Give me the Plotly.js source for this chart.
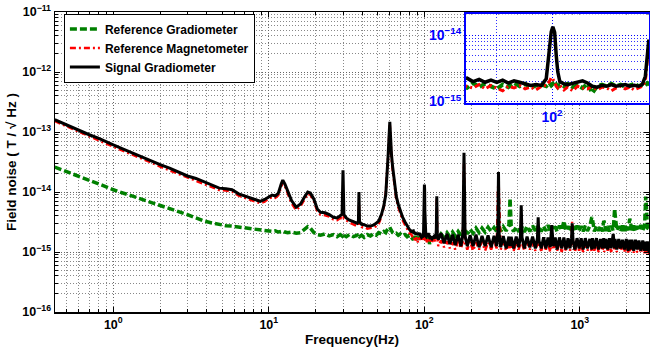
<!DOCTYPE html>
<html><head><meta charset="utf-8">
<script src="https://cdn.plot.ly/plotly-3.0.1.min.js"></script>
<style>html,body{margin:0;padding:0;background:#fff}#chart{width:650px;height:354px}</style>
</head><body><div id="chart"></div>
<script>
// Frequency (Hz)
const freq = [
0.42,0.5,0.6,0.7,0.8,0.9,1,1.2,1.4,1.6,1.8,2,2.3,2.6,3,3.4,3.8,4.3,4.8,5.3,5.8,6.4,7,7.6,8.2,8.8,9.4,10,
10.5,11,11.5,12,12.3,12.7,13.2,14,15,16,17,17.8,18.5,19.5,20.5,21.5,23,24.5,26,27.5,28.8,29.6,30,30.4,31.5,33,35,37,37.7,38,38.3,39.5,41,43,45,47,49,51,53,55,56.5,57.5,58.5,59.2,59.7,60,60.3,60.8,61.5,62.5,64,66,68,70,72.5,75,77.5,80,82.5,
85,86,87,88,89,90,91,92,93,94,95,96,97,98,98.9,99.5,99.85,100.15,100.5,100.8,101.1,101.5,102.3,103,104,105,106,107,108,109,110,111,112,113,114,115,116,117,118,118.8,119.5,120,120.3,
121.2,123,128,134,140,146,152,158,165,172,177,180,183,189,197,206,215,225,235,246,257,269,281,292,297,300,303,310,322,336,350,356,362,375,390,405,415,420,425,440,458,477,497,518,534,540,546,565,585,605,625,645,660,675,695,715,740,765,790,815,840,865,885,893,905,930,960,990,1020,1050,1085,1120,1160,1195,1205,1240,1280,1320,1360,1400,1425,1435,1470,1510,1550,1590,1640,1675,1685,1730,1780,1830,1880,1935,1990,2045,2095,2105,2160,2220,2280,2340,2400,2470,2540,2610,2655,2665,2720,2790
];
// Reference Gradiometer (T/sqrt(Hz))
const refGrad = [
26e-15,22e-15,18.5e-15,16e-15,14e-15,12.2e-15,10.9e-15,9.3e-15,8.1e-15,7.2e-15,6.6e-15,6.1e-15,5.4e-15,4.8e-15,4.2e-15,3.7e-15,3.3e-15,3.05e-15,2.85e-15,2.75e-15,2.7e-15,2.6e-15,2.5e-15,2.45e-15,2.35e-15,2.3e-15,2.28e-15,2.25e-15,
2.2e-15,2.25e-15,2.15e-15,2.2e-15,2.25e-15,2.15e-15,2.1e-15,2.15e-15,2.05e-15,2.1e-15,2.4e-15,2.65e-15,2.5e-15,2.1e-15,1.95e-15,1.9e-15,2.0e-15,1.85e-15,1.95e-15,1.8e-15,1.95e-15,1.85e-15,2.0e-15,1.9e-15,1.8e-15,1.95e-15,1.8e-15,1.9e-15,1.75e-15,1.85e-15,1.8e-15,1.9e-15,1.75e-15,1.95e-15,1.85e-15,2.0e-15,1.9e-15,2.1e-15,2.0e-15,2.2e-15,2.1e-15,2.3e-15,2.4e-15,2.5e-15,2.6e-15,2.6e-15,2.5e-15,2.4e-15,2.2e-15,2.1e-15,2.0e-15,2.05e-15,1.9e-15,2.0e-15,1.85e-15,1.95e-15,1.8e-15,1.9e-15,1.75e-15,
1.6e-15,1.9e-15,1.65e-15,1.85e-15,1.7e-15,1.55e-15,1.8e-15,1.65e-15,1.9e-15,1.7e-15,1.85e-15,1.6e-15,1.75e-15,1.8e-15,1.7e-15,1.9e-15,1.75e-15,1.85e-15,1.7e-15,1.8e-15,1.65e-15,1.8e-15,1.7e-15,1.85e-15,1.65e-15,1.75e-15,1.6e-15,1.85e-15,1.35e-15,1.7e-15,1.8e-15,1.7e-15,1.85e-15,1.7e-15,1.8e-15,1.65e-15,1.75e-15,1.85e-15,1.7e-15,1.8e-15,1.75e-15,1.9e-15,1.85e-15,
1.9e-15,1.7e-15,2.0e-15,1.75e-15,2.1e-15,1.8e-15,2.15e-15,1.85e-15,2.2e-15,1.9e-15,
2.3e-15,2.0e-15,2.35e-15,2.0e-15,2.4e-15,2.05e-15,2.5e-15,2.1e-15,2.5e-15,2.15e-15,
2.6e-15,2.2e-15,2.55e-15,2.2e-15,2.7e-15,2.3e-15,2.6e-15,2.2e-15,2.65e-15,2.25e-15,
2.8e-15,7.9e-15,2.7e-15,2.2e-15,2.6e-15,2.15e-15,2.65e-15,2.3e-15,2.6e-15,2.15e-15,
2.7e-15,2.2e-15,2.75e-15,2.25e-15,2.7e-15,2.3e-15,2.6e-15,2.2e-15,2.7e-15,2.25e-15,
2.8e-15,2.2e-15,2.7e-15,2.3e-15,2.65e-15,2.2e-15,2.75e-15,2.3e-15,3.3e-15,2.25e-15,
2.7e-15,2.2e-15,2.65e-15,2.3e-15,2.7e-15,2.2e-15,2.75e-15,2.25e-15,2.7e-15,2.2e-15,
2.75e-15,2.25e-15,2.7e-15,3.8e-15,3.6e-15,2.2e-15,2.7e-15,2.25e-15,2.75e-15,2.2e-15,
3.3e-15,3.2e-15,2.25e-15,2.7e-15,2.2e-15,2.75e-15,2.3e-15,5.2e-15,4.4e-15,2.3e-15,
2.7e-15,2.2e-15,2.75e-15,2.25e-15,2.8e-15,2.3e-15,3.6e-15,3.4e-15,2.3e-15,2.75e-15,
2.2e-15,2.7e-15,2.25e-15,2.8e-15,2.3e-15,2.75e-15,8.4e-15,7.5e-15,2.5e-15,2.4e-15
];
// Reference Magnetometer (T/sqrt(Hz))
const refMag = [
152e-15,124e-15,100e-15,85e-15,73e-15,64e-15,57e-15,47e-15,39e-15,34e-15,30e-15,26.5e-15,23e-15,20e-15,17.5e-15,15.6e-15,13.8e-15,12e-15,10.8e-15,10.6e-15,10.2e-15,8.7e-15,8.0e-15,7.4e-15,6.8e-15,6.5e-15,6.9e-15,7.8e-15,
8.2e-15,8.0e-15,8.8e-15,12.5e-15,14.5e-15,12.5e-15,9.6e-15,6.5e-15,5.0e-15,5.8e-15,7.6e-15,9.3e-15,9.0e-15,7.0e-15,4.8e-15,4.2e-15,4.1e-15,3.9e-15,3.5e-15,3.4e-15,3.7e-15,3.6e-15,8e-15,3.6e-15,3.4e-15,3.1e-15,2.9e-15,2.7e-15,2.8e-15,6e-15,2.8e-15,2.6e-15,2.6e-15,2.45e-15,2.5e-15,2.55e-15,2.7e-15,3.0e-15,3.9e-15,5.8e-15,9.5e-15,17e-15,38e-15,68e-15,110e-15,130e-15,100e-15,58e-15,38e-15,24e-15,13.5e-15,7.8e-15,5.6e-15,4.3e-15,3.4e-15,2.85e-15,2.4e-15,2.1e-15,1.95e-15,
1.7e-15,1.6e-15,1.8e-15,1.55e-15,1.75e-15,1.6e-15,1.45e-15,1.7e-15,1.6e-15,1.75e-15,1.55e-15,1.65e-15,1.5e-15,1.7e-15,1.75e-15,2.0e-15,2.3e-15,2.2e-15,1.9e-15,1.7e-15,1.6e-15,1.75e-15,1.5e-15,1.65e-15,1.45e-15,1.7e-15,1.6e-15,1.55e-15,1.7e-15,1.5e-15,1.65e-15,1.6e-15,1.45e-15,1.6e-15,1.7e-15,1.55e-15,1.65e-15,1.5e-15,1.6e-15,1.7e-15,2.0e-15,4.5e-15,7.5e-15,
1.8e-15,1.25e-15,1.55e-15,1.2e-15,1.5e-15,1.15e-15,1.45e-15,1.1e-15,1.5e-15,1.15e-15,
1.5e-15,30e-15,1.4e-15,1.1e-15,1.5e-15,1.05e-15,1.45e-15,1.1e-15,1.5e-15,1.05e-15,
1.45e-15,1.1e-15,1.5e-15,1.15e-15,8e-15,18e-15,7e-15,1.1e-15,1.45e-15,1.05e-15,
1.4e-15,1.1e-15,1.45e-15,1.05e-15,1.4e-15,1.1e-15,1.45e-15,3.5e-15,1.4e-15,1.05e-15,
1.45e-15,1.1e-15,1.4e-15,1.05e-15,1.4e-15,2.6e-15,1.3e-15,1.05e-15,1.45e-15,1.1e-15,
1.4e-15,1.0e-15,2.0e-15,1.1e-15,1.45e-15,1.05e-15,1.4e-15,1.0e-15,1.4e-15,1.05e-15,
1.45e-15,1.05e-15,1.5e-15,3.2e-15,1.4e-15,1.0e-15,1.4e-15,1.05e-15,1.4e-15,1.0e-15,
1.45e-15,1.05e-15,1.4e-15,1.0e-15,1.4e-15,1.05e-15,1.45e-15,1.0e-15,1.4e-15,1.05e-15,
1.4e-15,1.0e-15,1.45e-15,1.05e-15,1.4e-15,1.0e-15,1.45e-15,1.05e-15,1.4e-15,1.0e-15,
1.4e-15,1.05e-15,1.35e-15,1.0e-15,1.4e-15,0.98e-15,1.35e-15,1.0e-15,1.35e-15,0.97e-15,
1.3e-15,0.98e-15,1.3e-15,0.96e-15,1.3e-15,0.95e-15,1.25e-15,0.95e-15,1.25e-15,0.93e-15
];
// Signal Gradiometer (T/sqrt(Hz))
const sigGrad = [
160e-15,131e-15,108e-15,90e-15,79e-15,68e-15,61e-15,50e-15,42e-15,36.5e-15,31.5e-15,28.5e-15,25e-15,21.5e-15,18.5e-15,16.8e-15,14.8e-15,12.8e-15,11.6e-15,11.3e-15,10.9e-15,9.3e-15,8.6e-15,7.9e-15,7.3e-15,7.0e-15,7.5e-15,8.3e-15,
8.9e-15,8.6e-15,9.5e-15,13.5e-15,15.8e-15,13.5e-15,10.5e-15,7.2e-15,5.6e-15,6.3e-15,8.3e-15,10e-15,9.6e-15,7.6e-15,5.2e-15,4.6e-15,4.5e-15,4.2e-15,3.8e-15,3.7e-15,4.0e-15,4.3e-15,23e-15,4.2e-15,3.7e-15,3.4e-15,3.2e-15,3.0e-15,3.3e-15,10e-15,3.2e-15,2.9e-15,2.85e-15,2.7e-15,2.7e-15,2.8e-15,3.0e-15,3.3e-15,4.2e-15,6.0e-15,9e-15,16e-15,40e-15,75e-15,125e-15,148e-15,115e-15,65e-15,42e-15,27e-15,15e-15,8.5e-15,6.2e-15,4.8e-15,3.8e-15,3.2e-15,2.7e-15,2.4e-15,2.2e-15,
2.25e-15,2.0e-15,2.15e-15,1.95e-15,2.1e-15,1.95e-15,2.1e-15,1.9e-15,2.05e-15,1.95e-15,1.85e-15,1.75e-15,1.8e-15,1.75e-15,2.2e-15,5.6e-15,11.2e-15,13.3e-15,11e-15,5e-15,2.8e-15,2.0e-15,1.85e-15,1.8e-15,1.9e-15,2.0e-15,2.05e-15,1.9e-15,1.7e-15,1.65e-15,1.75e-15,1.7e-15,1.8e-15,1.7e-15,1.75e-15,1.8e-15,1.7e-15,1.75e-15,1.7e-15,1.8e-15,2.4e-15,5.5e-15,8.5e-15,
2.0e-15,1.6e-15,2.05e-15,1.4e-15,2.0e-15,1.35e-15,1.95e-15,1.3e-15,1.95e-15,1.25e-15,
1.95e-15,45e-15,1.85e-15,1.25e-15,1.9e-15,1.25e-15,1.95e-15,1.2e-15,1.85e-15,1.25e-15,
1.9e-15,1.2e-15,1.85e-15,1.25e-15,2.2e-15,21.5e-15,2.0e-15,1.2e-15,1.85e-15,1.15e-15,
1.8e-15,1.25e-15,1.8e-15,1.15e-15,1.8e-15,1.2e-15,1.85e-15,6.0e-15,1.75e-15,1.15e-15,
1.8e-15,1.2e-15,1.8e-15,1.15e-15,1.7e-15,3.8e-15,1.55e-15,1.15e-15,1.75e-15,1.15e-15,
1.75e-15,1.2e-15,2.8e-15,1.25e-15,1.75e-15,1.1e-15,1.75e-15,1.15e-15,1.75e-15,1.1e-15,
1.7e-15,1.15e-15,1.7e-15,3.0e-15,1.55e-15,1.1e-15,1.7e-15,1.15e-15,1.7e-15,1.1e-15,
1.7e-15,1.15e-15,1.65e-15,1.1e-15,1.7e-15,1.15e-15,1.7e-15,1.1e-15,1.65e-15,1.15e-15,
1.7e-15,1.15e-15,1.65e-15,1.1e-15,1.7e-15,1.15e-15,2.0e-15,1.15e-15,1.65e-15,1.1e-15,
1.65e-15,1.15e-15,1.6e-15,1.1e-15,1.65e-15,1.05e-15,1.6e-15,1.1e-15,1.6e-15,1.05e-15,
1.6e-15,1.1e-15,1.55e-15,1.05e-15,1.55e-15,1.05e-15,1.5e-15,1.05e-15,1.5e-15,1.0e-15
];
const seriesNames = ['Reference Gradiometer','Reference Magnetometer','Signal Gradiometer'];
const xTickVals = [1, 10, 100, 1000];
const xTickText = ['10<sup>0</sup>','10<sup>1</sup>','10<sup>2</sup>','10<sup>3</sup>'];
const yTickVals = [1e-16,1e-15,1e-14,1e-13,1e-12,1e-11];
const yTickText = ['10<sup>\u221216</sup>','10<sup>\u221215</sup>','10<sup>\u221214</sup>','10<sup>\u221213</sup>','10<sup>\u221212</sup>','10<sup>\u221211</sup>'];
const insetXTickVals = [100];
const insetXTickText = ['10<sup>2</sup>'];
const insetYTickVals = [1e-15, 1e-14];
const insetYTickText = ['10<sup>\u221215</sup>','10<sup>\u221214</sup>'];

// minor grid positions (2..9 within each decade)
function minorVals(d0, d1){ const v=[]; for(let d=d0; d<=d1; d++){ for(let k=2;k<=9;k++){ v.push(k*Math.pow(10,d)); } } return v; }
const xMinor = minorVals(-1, 3);
const yMinor = minorVals(-16, -12);
const insetYMinor = minorVals(-15, -15);

const FONT = 'Liberation Sans, Arial, Helvetica, sans-serif';
const styles = [
  {color:'#008000', width:3.5, dash:'7px,3px'},
  {color:'#ff0000', width:2.5, dash:'6px,3px,2px,3px'},
  {color:'#000000', width:3}
];
const series = [refGrad, refMag, sigGrad];
const traces = [];
series.forEach((s,i)=>{
  traces.push({x:freq, y:s, type:'scatter', mode:'lines', name:seriesNames[i], line:styles[i], xaxis:'x', yaxis:'y'});
});
series.forEach((s,i)=>{
  traces.push({x:freq, y:s, type:'scatter', mode:'lines', name:seriesNames[i], line:Object.assign({}, styles[i], {width: styles[i].width+0.5}), xaxis:'x2', yaxis:'y2', showlegend:false});
});

const gridDash = '1px,2px';
const layout = {
  width:650, height:354,
  margin:{l:55, r:1, t:12, b:42, pad:0},
  paper_bgcolor:'#fff', plot_bgcolor:'#fff',
  font:{family:FONT, color:'#000'},
  showlegend:true,
  legend:{x:0.015, y:0.995, xanchor:'left', yanchor:'top', bgcolor:'#fff', bordercolor:'#000', borderwidth:1,
          font:{family:FONT, size:12, weight:'bold', color:'#000'}, tracegroupgap:0},
  xaxis:{type:'log', domain:[0,1], range:[-0.375, 3.445], anchor:'y',
    tickmode:'array', tickvals:xTickVals, ticktext:xTickText,
    ticks:'inside', ticklen:5, tickcolor:'#000', tickwidth:1,
    showline:true, linecolor:'#000', linewidth:1.5, mirror:'allticks',
    showgrid:true, gridcolor:'#666', griddash:gridDash, gridwidth:1,
    minor:{tickmode:'array', tickvals:xMinor, ticks:'inside', ticklen:3, tickcolor:'#000', showgrid:true, gridcolor:'#888', griddash:gridDash, gridwidth:1},
    tickfont:{family:FONT, size:12.5, weight:'bold', color:'#000'},
    title:{text:'Frequency(Hz)', font:{family:FONT, size:13.5, weight:'bold', color:'#000'}, standoff:4}},
  yaxis:{type:'log', domain:[0,1], range:[-16, -11], anchor:'x',
    tickmode:'array', tickvals:yTickVals, ticktext:yTickText,
    ticks:'inside', ticklen:5, tickcolor:'#000', tickwidth:1,
    showline:true, linecolor:'#000', linewidth:1.5, mirror:'allticks',
    showgrid:true, gridcolor:'#666', griddash:gridDash, gridwidth:1,
    minor:{tickmode:'array', tickvals:yMinor, ticks:'inside', ticklen:3, tickcolor:'#000', showgrid:true, gridcolor:'#888', griddash:gridDash, gridwidth:1},
    tickfont:{family:FONT, size:12.5, weight:'bold', color:'#000'},
    title:{text:'Field noise ( T / \u221A Hz )', font:{family:FONT, size:13.5, weight:'bold', color:'#000'}, standoff:2}},
  xaxis2:{type:'log', domain:[0.692,1], range:[1.9287, 2.0804], anchor:'y2',
    tickmode:'array', tickvals:insetXTickVals, ticktext:insetXTickText, ticks:'',
    showline:true, linecolor:'#0000ff', linewidth:2, mirror:true,
    showgrid:true, gridcolor:'#0000ff', griddash:gridDash, gridwidth:1,
    minor:{tickmode:'array', tickvals:[90], showgrid:true, gridcolor:'#3030ff', griddash:gridDash, ticks:''},
    tickfont:{family:FONT, size:14, weight:'bold', color:'#0000ff'}},
  yaxis2:{type:'log', domain:[0.697,0.992], range:[-15.02, -13.69], anchor:'x2',
    tickmode:'array', tickvals:insetYTickVals, ticktext:insetYTickText, ticks:'',
    showline:true, linecolor:'#0000ff', linewidth:2, mirror:true,
    showgrid:true, gridcolor:'#0000ff', griddash:gridDash, gridwidth:1,
    minor:{tickmode:'array', tickvals:insetYMinor, showgrid:true, gridcolor:'#3030ff', griddash:gridDash, ticks:''},
    tickfont:{family:FONT, size:14, weight:'bold', color:'#0000ff'}}
};
Plotly.newPlot('chart', traces, layout, {displayModeBar:false, staticPlot:true});
</script>
</body></html>
